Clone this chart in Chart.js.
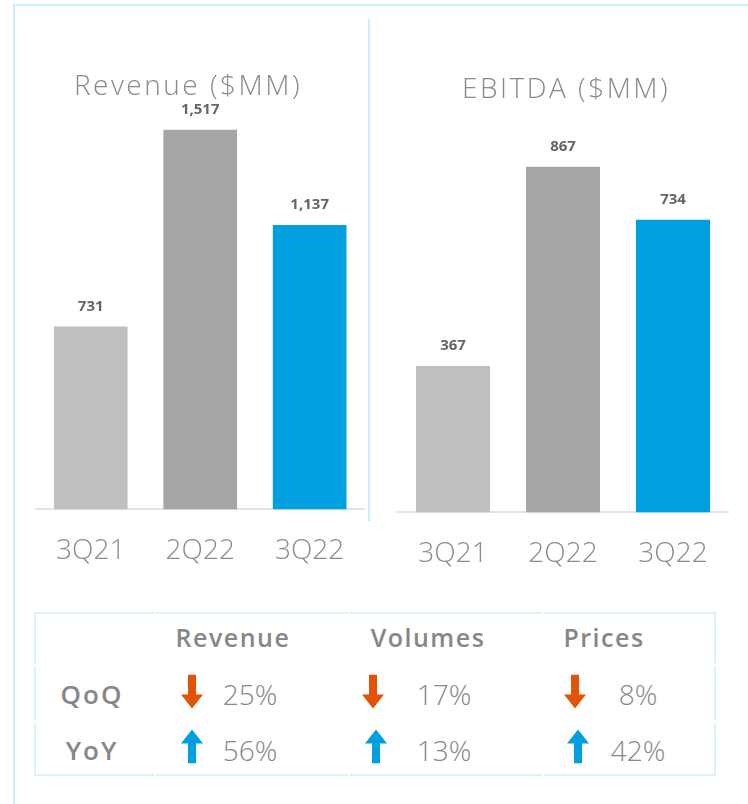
<!DOCTYPE html>
<html>
<head>
<meta charset="utf-8">
<script src="https://cdn.jsdelivr.net/npm/chart.js@4/dist/chart.umd.min.js"></script>
<style>
  html, body { margin: 0; padding: 0; background: #fff; }
  body { width: 748px; height: 804px; position: relative; overflow: hidden; font-family: "Open Sans", sans-serif; }
  .frame-top { position: absolute; left: 13px; top: 4px; width: 735px; height: 2px; background: #c9eefc; }
  .frame-left { position: absolute; left: 13px; top: 4px; width: 2px; height: 800px; background: #c9eefc; }
  .divider { position: absolute; left: 368px; top: 19px; width: 2px; height: 502px; background: #c9eefc; }
  canvas { position: absolute; top: 0; }
  .title { position: absolute; transform: translate(-50%, -50%); font-weight: 300; font-size: 28px;
           color: #8a8a8a; letter-spacing: 2.5px; white-space: nowrap; }
  .tbl { position: absolute; left: 34px; top: 612px; width: 678px; height: 160px; border: 2px solid #dcf2fc; }
  .gap { position: absolute; background: #fff; }
  .cell { position: absolute; transform: translate(-50%, -50%); white-space: nowrap; color: #878787; }
  .head { font-weight: 600; font-size: 25px; letter-spacing: 1.5px; }
  .rowlab { font-weight: 600; font-size: 26px; letter-spacing: 2px; }
  .pct { font-weight: 300; font-size: 28px; }
  .arrow { position: absolute; transform: translate(-50%, -50%); }
</style>
</head>
<body>
<div class="frame-top"></div>
<div class="frame-left"></div>
<div class="divider"></div>

<canvas id="revChart" width="370" height="600" style="left:0"></canvas>
<canvas id="ebitdaChart" width="378" height="600" style="left:370px"></canvas>

<div class="title" style="left:188px; top:84px">Revenue ($MM)</div>
<div class="title" style="left:566px; top:87px">EBITDA ($MM)</div>

<div id="table"></div>

<script>
'use strict';

// ---- data ----
const periods = ['3Q21', '2Q22', '3Q22'];
const revenue = [731, 1517, 1137];
const ebitda = [367, 867, 734];

const changeCols = ['Revenue', 'Volumes', 'Prices'];
const changeRows = ['QoQ', 'YoY'];
const qoqChange = [-25, -17, -8];
const yoyChange = [56, 13, 42];

const COLORS = {
    bars: ['#bfbfbf', '#a6a6a6', '#009fdf'],
    value: '#666666',
    tick: '#8c8c8c',
    axis: '#e3e3e3',
    down: '#e35205',
    up: '#009fdf',
};

// rótulos de valor em cima das barras
const valueLabels = {
    id: 'valueLabels',
    afterDatasetsDraw(chart) {
        const { ctx } = chart;
        const meta = chart.getDatasetMeta(0);
        const data = chart.data.datasets[0].data;
        ctx.save();
        ctx.font = '700 15px "Open Sans"';
        ctx.fillStyle = COLORS.value;
        ctx.textAlign = 'center';
        ctx.textBaseline = 'middle';
        meta.data.forEach((bar, i) => {
            ctx.fillText(data[i].toLocaleString('en-US'), bar.x, bar.y - 20);
        });
        ctx.restore();
    }
};

function barChart(canvasId, values, yMax, padding) {
    const ctx = document.getElementById(canvasId).getContext('2d');
    return new Chart(ctx, {
        type: 'bar',
        data: {
            labels: periods,
            datasets: [{
                data: values,
                backgroundColor: COLORS.bars,
                barPercentage: 0.673,
                categoryPercentage: 1,
            }]
        },
        options: {
            responsive: false,
            animation: false,
            layout: { padding },
            plugins: { legend: { display: false }, tooltip: { enabled: false } },
            scales: {
                x: {
                    grid: { display: false, drawTicks: false },
                    border: { display: true, color: COLORS.axis, width: 2 },
                    ticks: {
                        color: COLORS.tick,
                        padding: 25,
                        font: { family: 'Open Sans', size: 28, weight: '300' },
                    }
                },
                y: { display: false, min: 0, max: yMax }
            }
        },
        plugins: [valueLabels]
    });
}

barChart('revChart', revenue, 2000, { left: 36, right: 4, top: 9, bottom: 7 });
barChart('ebitdaChart', ebitda, 1200, { left: 28, right: 20, top: 34, bottom: 4 });

// ---- tabela de variações ----
const table = document.getElementById('table');
const headX = [233, 428, 604];
const arrowX = [[192, 192], [373, 376], [575, 578]];
const pctX = [250, 444, 638];
const rowY = [694, 750];

function arrowSvg(up, color) {
    const pts = up ? '7,34 15,34 15,14 22,14 11,0 0,14 7,14'
                   : '7,0 15,0 15,20 22,20 11,34 0,20 7,20';
    return `<svg width="22" height="34" viewBox="0 0 22 34"><polygon points="${pts}" fill="${color}"/></svg>`;
}

let html = '<div class="tbl"></div>';
// pequenas interrupções brancas na borda
[154, 348, 542].forEach(x => {
    html += `<div class="gap" style="left:${x}px; top:612px; width:2px; height:2px"></div>`;
    html += `<div class="gap" style="left:${x}px; top:774px; width:2px; height:2px"></div>`;
});
[663, 720].forEach(y => {
    html += `<div class="gap" style="left:34px; top:${y}px; width:2px; height:3px"></div>`;
    html += `<div class="gap" style="left:714px; top:${y}px; width:2px; height:3px"></div>`;
});
changeCols.forEach((c, i) => {
    html += `<div class="cell head" style="left:${headX[i]}px; top:637px">${c}</div>`;
});
[qoqChange, yoyChange].forEach((row, r) => {
    html += `<div class="cell rowlab" style="left:92px; top:${rowY[r]}px">${changeRows[r]}</div>`;
    row.forEach((v, i) => {
        const up = v > 0;
        const ay = up ? 749 : 694;
        html += `<div class="arrow" style="left:${arrowX[i][r]}px; top:${ay}px">${arrowSvg(up, up ? COLORS.up : COLORS.down)}</div>`;
        html += `<div class="cell pct" style="left:${pctX[i]}px; top:${rowY[r]}px">${Math.abs(v)}%</div>`;
    });
});
table.innerHTML = html;
</script>
</body>
</html>
